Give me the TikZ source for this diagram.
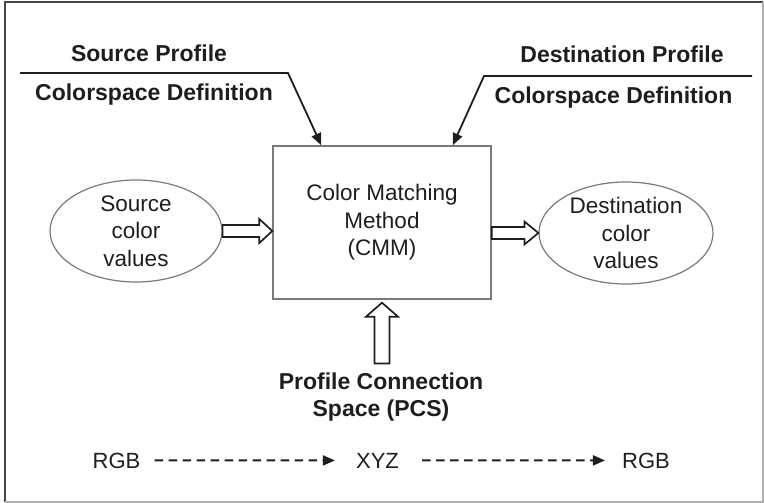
\documentclass[tikz,border=0pt]{standalone}
\usepackage{fontspec}
\setmainfont{Liberation Sans}
\usetikzlibrary{shapes.geometric,arrows.meta,calc}
\definecolor{ink}{HTML}{1E1E1E}
\definecolor{rim}{HTML}{7A7A7A}
\definecolor{framedark}{HTML}{444444}
\definecolor{framelight}{HTML}{B0B0B0}

\begin{document}
\begin{tikzpicture}[x=1pt,y=-1pt,
  txt/.style={inner sep=0pt,anchor=base,text=ink,font=\fontsize{22}{27}\selectfont},
  lbl/.style={txt,font=\fontsize{23}{27}\selectfont\bfseries},
  oval/.style={ellipse,draw=rim,line width=1.2pt,inner sep=0pt,align=center,
    text=ink,font=\fontsize{22.5}{27.5}\selectfont},
  cmm/.style={draw=rim,line width=1.4pt,inner sep=0pt,align=center,
    text=ink,font=\fontsize{22.5}{27.5}\selectfont},
  hollow/.style={draw=ink,line width=1.7pt,fill=white,line join=miter},
  feed/.style={draw=ink,line width=1.8pt,-{Triangle[length=12pt,width=10pt]}},
  flow/.style={draw=ink,line width=2pt,dash pattern=on 8.5pt off 5.5pt,
    -{Triangle[length=12pt,width=10pt]}}]

\useasboundingbox (0,0) rectangle (764,503);

% frame
\draw[framedark,line width=1.6pt] (5,502) -- (5,2) -- (763,2);
\draw[framelight,line width=1.2pt] (763,2) -- (763,502) -- (5,502);

% main blocks
\node[cmm,minimum width=218pt,minimum height=153pt] (box) at (382,222.5)
  {Color Matching\\Method\\(CMM)};
\node[oval,minimum width=172pt,minimum height=102pt] (src) at (136,231)
  {Source\\color\\values};
\node[oval,minimum width=174pt,minimum height=102pt] (dst) at (626,233)
  {Destination\\color\\values};

% profile labels
\node[lbl] (sp) at (149,62) {Source Profile};
\node[lbl] (sc) at (154,100) {Colorspace Definition};
\node[lbl] (dp) at (622,63) {Destination Profile};
\node[lbl] (dc) at (613.5,103) {Colorspace Definition};

\coordinate (sl) at (20,73);
\coordinate (sk) at (288,73);
\coordinate (dl) at (752,76);
\coordinate (dk) at (484,76);
\draw[feed] (sl) -- (sk) -- ($(box.north west)+(49,0)$);
\draw[feed] (dl) -- (dk) -- ($(box.north east)+(-39,0)$);

% PCS label and its arrow
\node[lbl,anchor=center,align=center] (pcs) at (381,397)
  {Profile Connection\\Space (PCS)};

% hollow block arrows
\draw[hollow] let \p1=(src.east), \p2=(box.west) in
  (\x1,\y1+6pt) -- (\x2-13pt,\y1+6pt) -- (\x2-13pt,\y1+12pt) -- (\x2,\y1)
  -- (\x2-13pt,\y1-12pt) -- (\x2-13pt,\y1-6pt) -- (\x1,\y1-6pt) -- cycle;
\draw[hollow] let \p1=(box.east), \p2=(dst.west) in
  (\x1,\y2+6pt) -- (\x2-14pt,\y2+6pt) -- (\x2-14pt,\y2+11.5pt) -- (\x2,\y2)
  -- (\x2-14pt,\y2-11.5pt) -- (\x2-14pt,\y2-6pt) -- (\x1,\y2-6pt) -- cycle;
\draw[hollow] let \p1=(box.south), \p2=(pcs.north) in
  (\x1,\y1-3pt) -- (\x1+16pt,\y1-17pt) -- (\x1+7.5pt,\y1-17pt)
  -- (\x1+7.5pt,\y2+9pt) -- (\x1-7.5pt,\y2+9pt) -- (\x1-7.5pt,\y1-17pt)
  -- (\x1-16pt,\y1-17pt) -- cycle;

% colour space chain
\node[txt] (rgbA) at (116.5,468) {RGB};
\node[txt] (xyz) at (377.5,468) {XYZ};
\node[txt] (rgbB) at (646,468) {RGB};
\draw[flow,shorten <=14pt,shorten >=21pt] (rgbA.east) -- (xyz.west);
\draw[flow,shorten <=23pt,shorten >=17pt] (xyz.east) -- (rgbB.west);

\end{tikzpicture}
\end{document}
